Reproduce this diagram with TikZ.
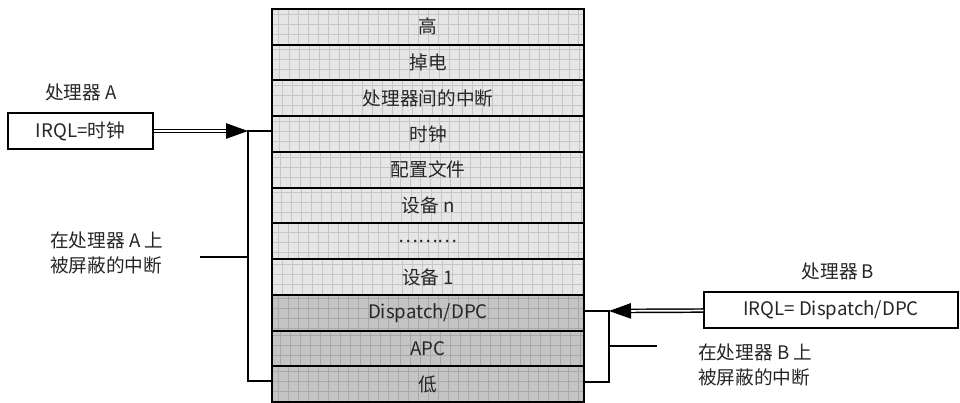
\documentclass[tikz,border=0pt]{standalone}
\usepackage{fontspec}
\setmainfont{Noto Sans CJK SC}
\usetikzlibrary{arrows.meta, positioning}
\definecolor{lvllight}{HTML}{E6E6E6}
\definecolor{lvldark}{HTML}{C4C4C4}
\definecolor{txtgray}{HTML}{262626}

\begin{document}
\begin{tikzpicture}[
  x=0.75pt, y=-0.75pt,
  node distance=0pt,
  lvl/.style={
    rectangle, draw=black, line width=1.5pt, fill=#1, outer sep=0pt,
    minimum width=234pt, minimum height=26.8pt, inner sep=0pt,
    font=\fontsize{14}{16}\selectfont, text=txtgray,
    path picture={\draw[#1!86!black, line width=0.4pt, step=7.5pt]
      (path picture bounding box.south west) grid (path picture bounding box.north east);}
  },
  cpu/.style={
    rectangle, draw=black, line width=1pt, fill=white,
    minimum height=27pt, inner sep=0pt,
    font=\fontsize{14}{16}\selectfont, text=txtgray
  },
  lbl/.style={font=\fontsize{14}{18.75}\selectfont, text=txtgray, inner sep=0pt, align=left},
  brk/.style={line width=1.5pt},
  dbl/.style={double, double distance=1.3pt, line width=1.1pt,
    -{Triangle[length=16.5pt, width=11.5pt]}}
]
  \useasboundingbox (0,0) rectangle (960,403);

  % IRQL levels
  \node[lvl=lvllight, anchor=north] (r1) at (428,9) {高};
  \node[lvl=lvllight, below=of r1] (r2) {掉电};
  \node[lvl=lvllight, below=of r2] (r3) {处理器间的中断};
  \node[lvl=lvllight, below=of r3] (r4) {时钟};
  \node[lvl=lvllight, below=of r4] (r5) {配置文件};
  \node[lvl=lvllight, below=of r5] (r6) {设备 n};
  \node[lvl=lvllight, below=of r6] (r7) {………};
  \node[lvl=lvllight, below=of r7] (r8) {设备 1};
  \node[lvl=lvldark, below=of r8] (r9) {Dispatch/DPC};
  \node[lvl=lvldark, below=of r9] (r10) {APC};
  \node[lvl=lvldark, below=of r10] (r11) {低};

  % processor A
  \node[lbl] (lblA) at (81,92) {处理器 A};
  \node[cpu, minimum width=108.75pt] (cpuA) at (80.5,131) {IRQL=时钟};
  \coordinate (ja) at (248,131);
  \coordinate (jb) at (248,381);
  \coordinate (ta) at (200,257);
  \draw[dbl] (cpuA) -- (ja);
  \draw[brk] (ja -| r4.west) -- (ja) -- (jb) -- (jb -| r11.west);
  \draw[brk] (ta) -- (ta -| ja);
  \node[lbl, anchor=west] (mskA) at (50,252.5) {在处理器 A 上\\被屏蔽的中断};

  % processor B
  \node[lbl] (lblB) at (838,271) {处理器 B};
  \node[cpu, minimum width=190.5pt] (cpuB) at (831,310) {IRQL= Dispatch/DPC};
  \coordinate (jc) at (609,311);
  \coordinate (jd) at (609,382);
  \coordinate (tb) at (657,346);
  \draw[dbl] (cpuB) -- (jc);
  \draw[brk] (jc -| r9.east) -- (jc) -- (jd) -- (jd -| r11.east);
  \draw[brk] (tb) -- (tb -| jc);
  \node[lbl, anchor=west] (mskB) at (698,364.5) {在处理器 B 上\\被屏蔽的中断};
\end{tikzpicture}
\end{document}
